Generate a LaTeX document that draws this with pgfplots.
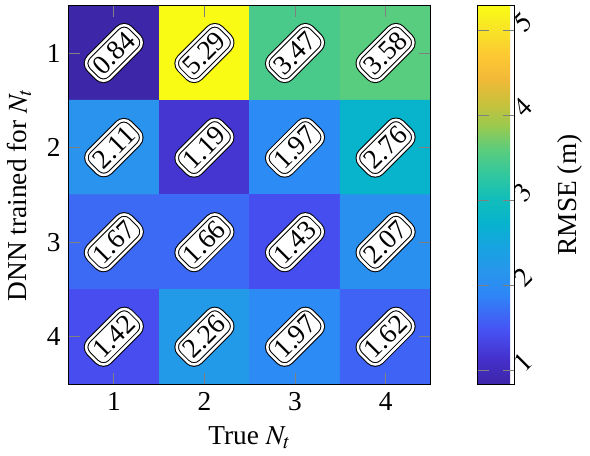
\documentclass[border=0pt]{standalone}
\usepackage{mathptmx}
\usepackage{pgfplots}
\pgfplotsset{compat=1.18}
\usepackage{fontspec}
\setmainfont{Liberation Serif}
\pgfplotsset{
  colormap={myparula}{
    rgb(0pt)=(0.2422,0.1504,0.6603)
    rgb(4pt)=(0.2691,0.1848,0.7907)
    rgb(9pt)=(0.2810,0.3228,0.9579)
    rgb(15pt)=(0.1786,0.5289,0.9682)
    rgb(19pt)=(0.1540,0.5902,0.9218)
    rgb(23pt)=(0.0882,0.6415,0.8806)
    rgb(27pt)=(0.0251,0.7047,0.8000)
    rgb(31pt)=(0.0704,0.7463,0.7289)
    rgb(35pt)=(0.1992,0.7813,0.6153)
    rgb(39pt)=(0.3544,0.8040,0.4924)
    rgb(43pt)=(0.6033,0.7890,0.3099)
    rgb(47pt)=(0.7974,0.7547,0.2294)
    rgb(51pt)=(0.9545,0.7255,0.2180)
    rgb(55pt)=(0.9904,0.7919,0.1968)
    rgb(59pt)=(0.9722,0.8913,0.1505)
    rgb(63pt)=(0.9769,0.9839,0.0805)
  }
}
\begin{document}
\begin{tikzpicture}[font=\fontsize{12}{14}\selectfont]
\begin{axis}[
  scale only axis,
  width=159pt, height=166pt,
  xmin=0.5, xmax=4.5, ymin=0.5, ymax=4.5,
  y dir=reverse,
  xtick={1,2,3,4}, ytick={1,2,3,4},
  tick align=inside,
  tick style={gray, thin},
  major tick length=5pt,
  xlabel={True $N_t$},
  ylabel={DNN trained for $N_t$},
  colormap name=myparula,
  colorbar,
  colorbar style={
    width=16.2pt,
    at={(parent axis.north east)}, anchor=north west, xshift=12pt,
    ytick={1,2,3,4,5},
    yticklabel style={rotate=45, anchor=center, xshift=5pt},
    ylabel={RMSE (m)},
    ylabel style={yshift=-2pt},
    tick align=inside,
    tick style={gray, thin},
    major tick length=5pt,
  },
  axis on top,
  /pgf/number format/assume math mode=true,
]
\addplot[matrix plot*, mesh/cols=4, point meta=explicit] table[x=x, y=y, meta=c] {
x y c
1 1 0.84
2 1 5.29
3 1 3.47
4 1 3.58
1 2 2.11
2 2 1.19
3 2 1.97
4 2 2.76
1 3 1.67
2 3 1.66
3 3 1.43
4 3 2.07
1 4 1.42
2 4 2.26
3 4 1.97
4 4 1.62
};
\addplot[draw=none, mark=none, point meta=explicit,
  nodes near coords={\pgfmathprintnumber[fixed,precision=2,fixed zerofill]{\pgfplotspointmeta}},
  nodes near coords style={anchor=center, rotate=45, fill=white, draw=black, line width=0.45pt,
    double=white, double distance=1.1pt, rounded corners=4pt, inner sep=2.5pt, text=black,
    /pgf/number format/assume math mode=true}
] table[x=x, y=y, meta=c] {
x y c
1 1 0.84
2 1 5.29
3 1 3.47
4 1 3.58
1 2 2.11
2 2 1.19
3 2 1.97
4 2 2.76
1 3 1.67
2 3 1.66
3 3 1.43
4 3 2.07
1 4 1.42
2 4 2.26
3 4 1.97
4 4 1.62
};
\end{axis}
\end{tikzpicture}
\end{document}
